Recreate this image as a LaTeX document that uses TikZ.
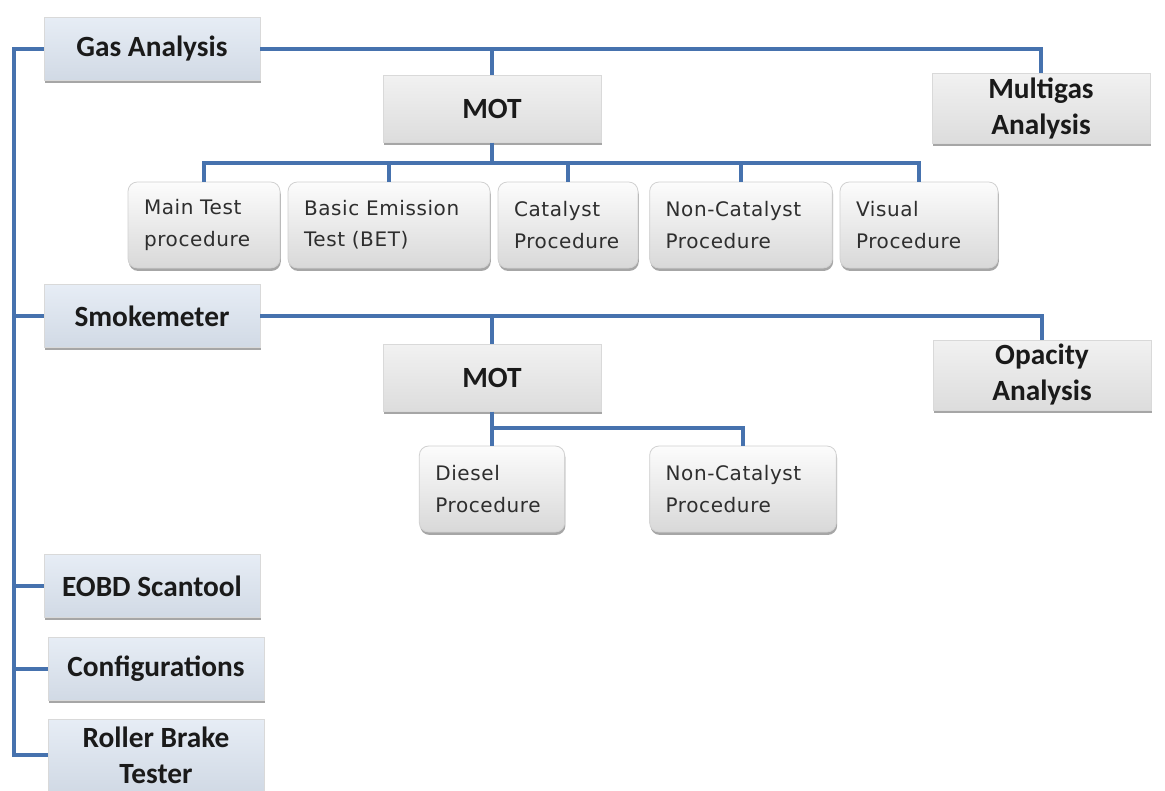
\documentclass[tikz,border=0pt]{standalone}
\usepackage{fontspec}
\newfontfamily\headfont{Carlito}
\newfontfamily\leaffont{DejaVu Sans}[LetterSpace=3.0]
\usetikzlibrary{shadows}
\definecolor{linec}{HTML}{4672AE}
\definecolor{topfill}{HTML}{DCE5F1}
\definecolor{grayfill}{HTML}{E8E8E8}
\definecolor{leaffill}{HTML}{EBEBEB}
\definecolor{txt}{HTML}{1A1A1A}
\tikzset{
  x=0.75pt, y=-0.75pt,
  conn/.style={draw=linec, line width=3pt},
  shadowed/.style={drop shadow={shadow xshift=0.6pt, shadow yshift=-2.2pt, opacity=0.35, fill=black}},
  headbox/.style={rectangle, draw=black!15, line width=0.6pt, shadowed, text=txt,
     font=\headfont\bfseries\fontsize{22}{27}\selectfont, align=center, inner sep=0pt},
  topbox/.style={headbox, top color=topfill!70!white, bottom color=topfill!95!black,
     minimum width=162pt, minimum height=47pt},
  motbox/.style={headbox, top color=grayfill!60!white, bottom color=grayfill!95!black,
     minimum width=163.5pt, minimum height=50pt},
  sidebox/.style={headbox, top color=grayfill!60!white, bottom color=grayfill!95!black,
     minimum width=163.5pt, minimum height=52.5pt},
  leaf/.style={rectangle, rounded corners=7pt, draw=black!18, line width=0.6pt, shadowed,
     top color=white!85!leaffill, bottom color=leaffill!92!black, text=black!82,
     font=\leaffont\fontsize{15}{23.5}\selectfont, align=left, inner xsep=12pt,
     minimum height=64.5pt, text width=#1},
}
\begin{document}
\begin{tikzpicture}
\useasboundingbox (0,0) rectangle (1165,790);
\fill[white] (0,0) rectangle (1165,790);

% top-level boxes
\node[topbox] (gas) at (152,49) {Gas Analysis};
\node[topbox] (smoke) at (152,316) {Smokemeter};
\node[topbox] (eobd) at (152,586) {EOBD Scantool};
\node[topbox] (conf) at (156,669) {Configurations};
\node[topbox, minimum height=54pt] (roller) at (156,755) {Roller Brake\\Tester};

% MOT / side boxes
\node[motbox] (mot1) at (492,109) {MOT};
\node[sidebox] (multi) at (1041,108) {Multigas\\Analysis};
\node[motbox] (mot2) at (492,378) {MOT};
\node[sidebox] (opac) at (1042,375) {Opacity\\Analysis};

% leaves row 1
\node[leaf=90pt] (main) at (204,225) {Main Test\\procedure};
\node[leaf=127.5pt] (basic) at (389,225) {Basic Emission\\Test (BET)};
\node[leaf=81pt] (cat) at (568,225) {Catalyst\\Procedure};
\node[leaf=113pt] (noncat) at (741,225) {Non-Catalyst\\Procedure};
\node[leaf=94.5pt] (visual) at (919,225) {Visual\\Procedure};

% leaves row 2
\node[leaf=85pt] (diesel) at (492,489) {Diesel\\Procedure};
\node[leaf=116pt] (noncat2) at (743,489) {Non-Catalyst\\Procedure};

% helper coordinates
\coordinate (sp) at (14,0);
\coordinate (bus1) at (0,163);
\coordinate (bus2) at (0,428);

% left spine
\draw[conn] (gas.west) -- (gas.west -| sp) -- (roller.west -| sp) -- (roller.west);
\draw[conn] (smoke.west) -- (smoke.west -| sp);
\draw[conn] (eobd.west) -- (eobd.west -| sp);
\draw[conn] (conf.west) -- (conf.west -| sp);

% gas analysis branch
\draw[conn] (gas.east) -| (multi.north);
\draw[conn] (gas.east -| mot1.north) -- (mot1.north);
\draw[conn] (mot1.south) -- (mot1.south |- bus1);
\draw[conn] (main.north) -- (main.north |- bus1) -- (visual.north |- bus1) -- (visual.north);
\draw[conn] (basic.north) -- (basic.north |- bus1);
\draw[conn] (cat.north) -- (cat.north |- bus1);
\draw[conn] (noncat.north) -- (noncat.north |- bus1);

% smokemeter branch
\draw[conn] (smoke.east) -| (opac.north);
\draw[conn] (smoke.east -| mot2.north) -- (mot2.north);
\draw[conn] (mot2.south) -- (diesel.north);
\draw[conn] (mot2.south |- bus2) -| (noncat2.north);
\end{tikzpicture}
\end{document}
